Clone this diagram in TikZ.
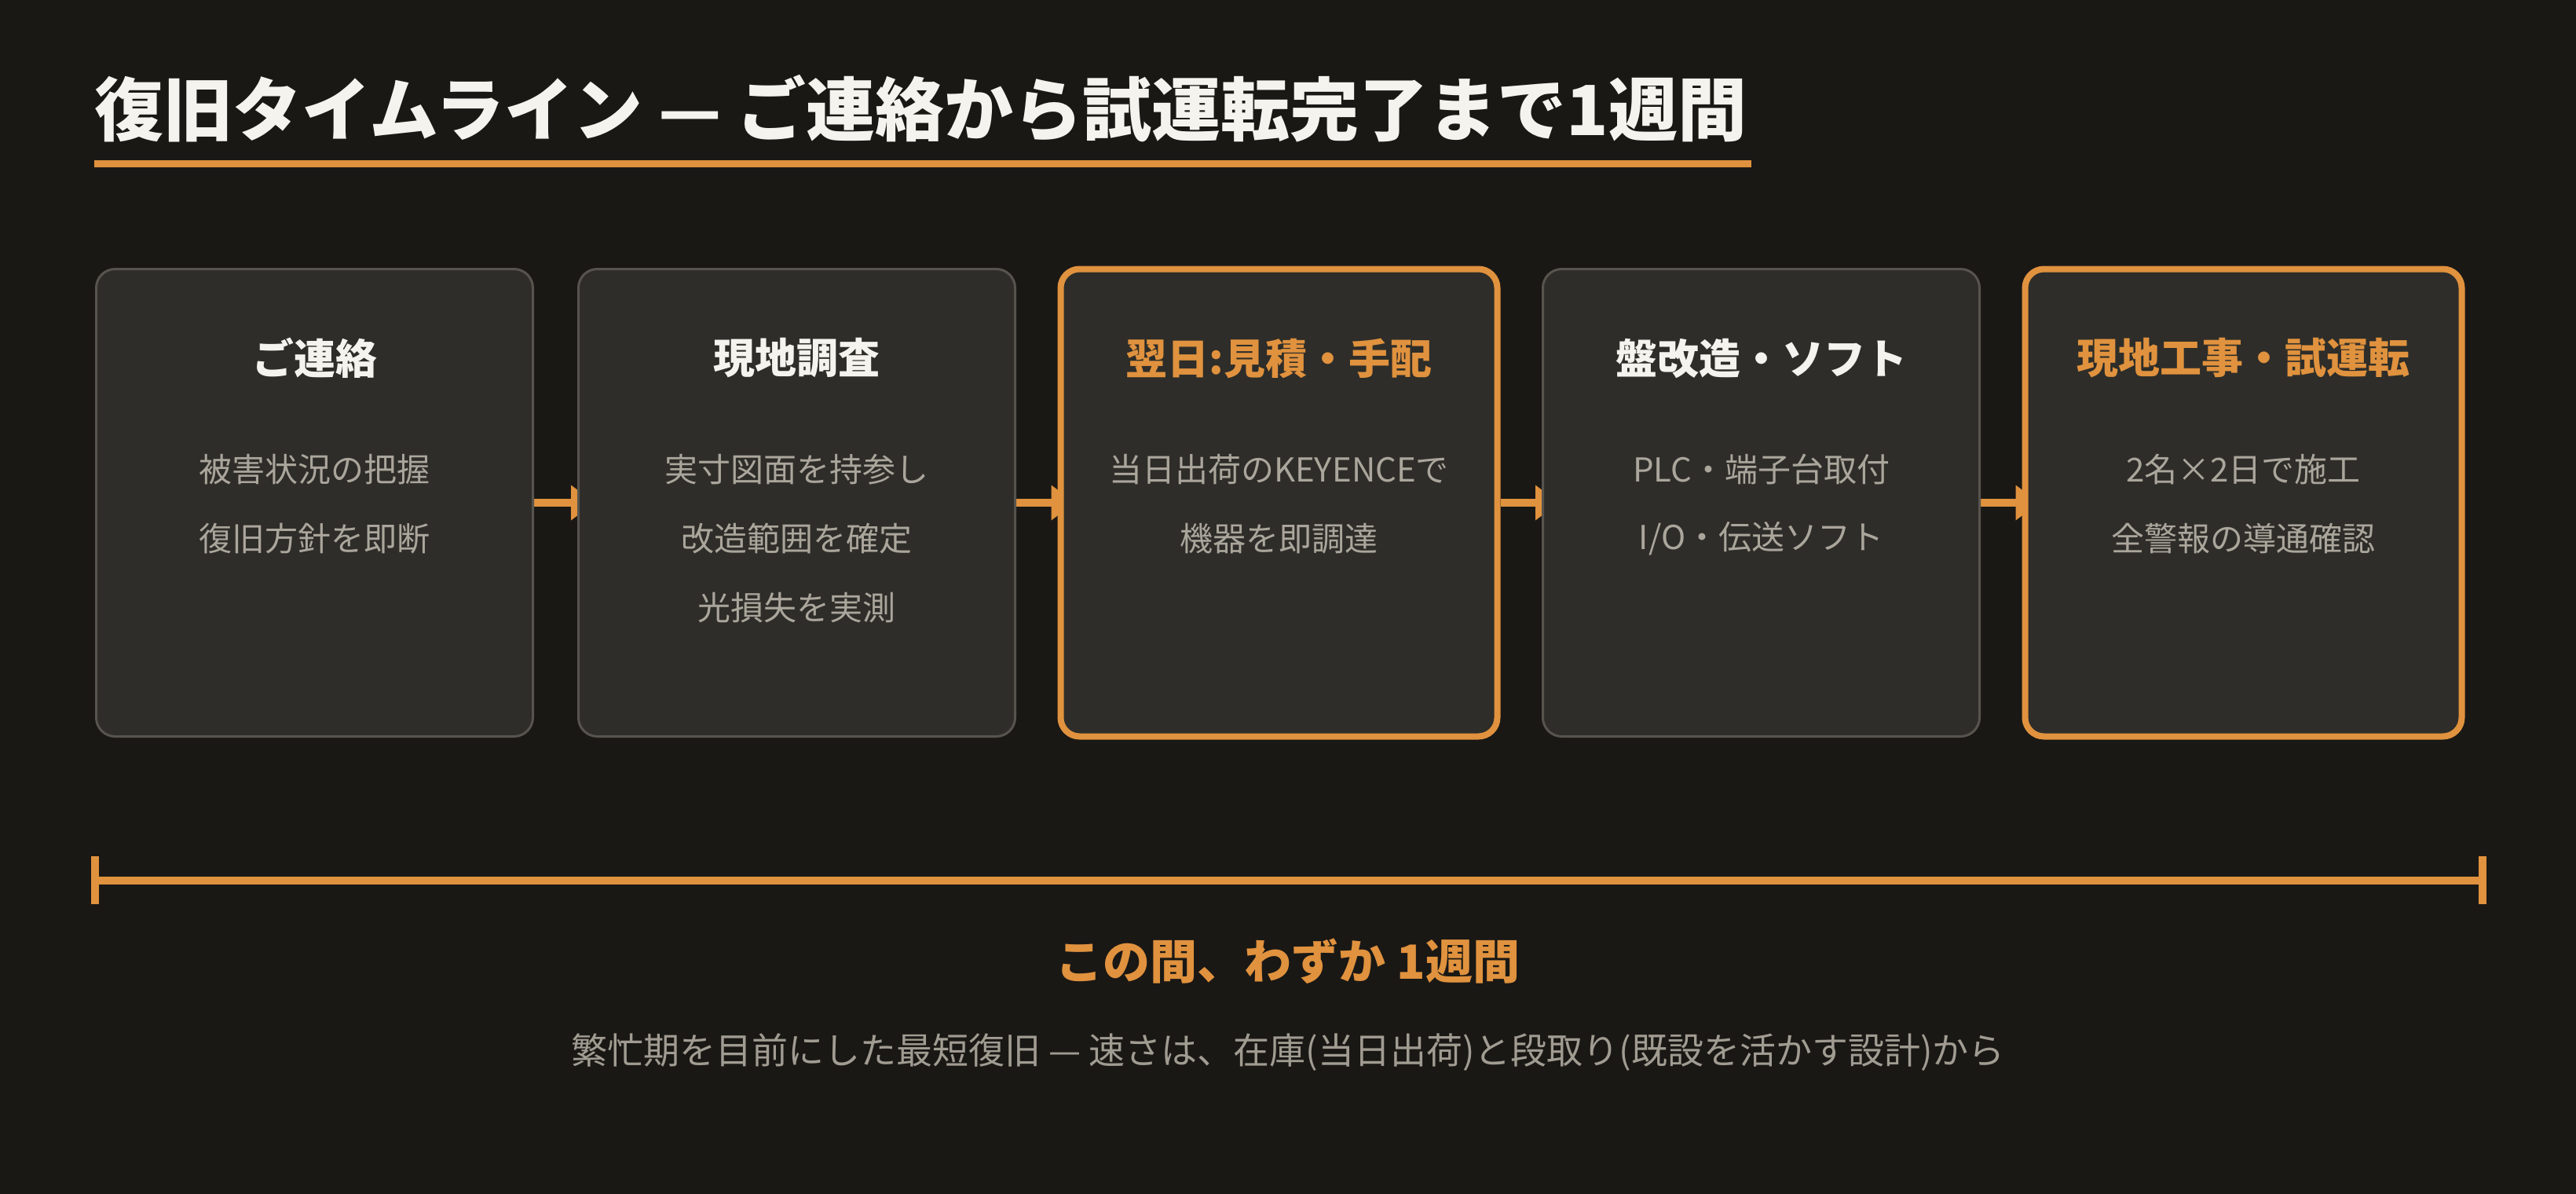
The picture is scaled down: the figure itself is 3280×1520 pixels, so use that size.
\documentclass[tikz,border=0pt]{standalone}
\usepackage{fontspec}
\setmainfont{Noto Sans CJK JP}
\usetikzlibrary{arrows.meta,backgrounds}
\definecolor{bgc}{HTML}{1A1815}
\definecolor{boxfill}{HTML}{2E2D29}
\definecolor{boxline}{HTML}{57544E}
\definecolor{accent}{HTML}{E0923E}
\definecolor{titlec}{HTML}{F5F3EE}
\definecolor{bodyc}{HTML}{ABA69C}
\definecolor{footc}{HTML}{A19C92}
\tikzset{
  card/.style={draw=boxline, line width=3pt, fill=boxfill, rounded corners=24pt,
    minimum width=556pt, minimum height=595pt, inner sep=0pt},
  hicard/.style={card, draw=accent, line width=8pt},
  cardtitle/.style={font={\fontsize{53pt}{60pt}\selectfont\bfseries}, text=titlec, inner sep=0pt},
  hititle/.style={cardtitle, text=accent},
  cardline/.style={font={\fontsize{42pt}{50pt}\selectfont}, text=bodyc, inner sep=0pt},
  flow/.style={draw=accent, line width=10pt, shorten >=-22pt,
    -{Triangle[width=45pt,length=30pt,line width=0pt]}},
}
\begin{document}
\begin{tikzpicture}[x=1pt,y=-1pt]
\begin{scope}[on background layer]
\path[use as bounding box, fill=bgc] (0,0) rectangle (3280,1520);
\end{scope}

% title
\node[anchor=west, inner sep=0pt, font={\fontsize{88pt}{96pt}\selectfont\bfseries}, text=titlec]
  (title) at (120,138) {復旧タイムライン — ご連絡から試運転完了まで1週間};
\fill[accent] (120,204) rectangle (2230,213);

% cards
\node[card]   (b1) at (400.5,640) {};
\node[card]   (b2) at (1014.5,640) {};
\node[hicard] (b3) at (1628.5,640) {};
\node[card]   (b4) at (2242.5,640) {};
\node[hicard] (b5) at (2856.5,640) {};

\node[cardtitle] (t1) at (400.5,456) {ご連絡};
\node[cardline] (l11) at (400.5,598) {被害状況の把握};
\node[cardline] (l12) at (400.5,686) {復旧方針を即断};

\node[cardtitle] (t2) at (1014.5,456) {現地調査};
\node[cardline] (l21) at (1014.5,598) {実寸図面を持参し};
\node[cardline] (l22) at (1014.5,686) {改造範囲を確定};
\node[cardline] (l23) at (1014.5,774) {光損失を実測};

\node[hititle] (t3) at (1628.5,456) {翌日:見積・手配};
\node[cardline] (l31) at (1628.5,598) {当日出荷のKEYENCEで};
\node[cardline] (l32) at (1628.5,686) {機器を即調達};

\node[cardtitle] (t4) at (2242.5,456) {盤改造・ソフト};
\node[cardline] (l41) at (2242.5,598) {PLC・端子台取付};
\node[cardline] (l42) at (2242.5,686) {I/O・伝送ソフト};

\node[hititle] (t5) at (2856.5,456) {現地工事・試運転};
\node[cardline] (l51) at (2856.5,598) {2名×2日で施工};
\node[cardline] (l52) at (2856.5,686) {全警報の導通確認};

% connectors (behind the cards)
\begin{scope}[on background layer]
\draw[flow] (b1.east) -- (b2.west);
\draw[flow] (b2.east) -- (b3.west);
\draw[flow] (b3.east) -- (b4.west);
\draw[flow] (b4.east) -- (b5.west);
\end{scope}

% timeline bar
\coordinate (tl) at (121,1121);
\coordinate (tr) at (3161,1121);
\draw[accent, line width=10pt] (tl) -- (tr);
\fill[accent] (116,1090) rectangle (126,1151);
\fill[accent] (3156,1090) rectangle (3166,1151);

\node[inner sep=0pt, font={\fontsize{60pt}{66pt}\selectfont\bfseries}, text=accent]
  (span) at (1640,1224) {この間、わずか 1週間};
\node[inner sep=0pt, font={\fontsize{46pt}{52pt}\selectfont}, text=footc]
  (foot) at (1640,1340) {繁忙期を目前にした最短復旧 — 速さは、在庫(当日出荷)と段取り(既設を活かす設計)から};
\end{tikzpicture}
\end{document}
